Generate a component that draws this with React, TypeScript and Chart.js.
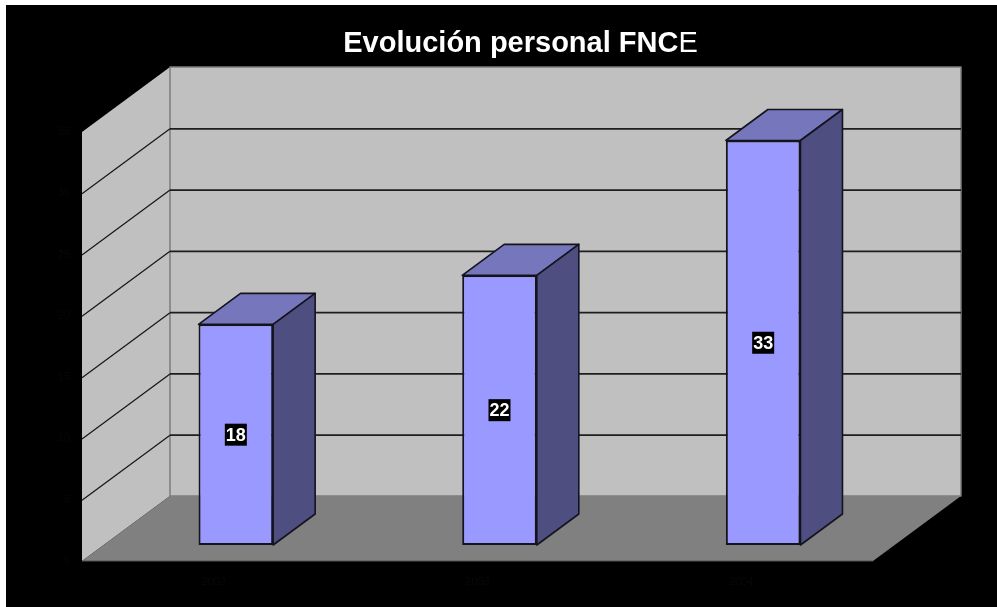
import React, { useEffect, useRef } from "react";
import { Chart, registerables } from "chart.js";

Chart.register(...registerables);

const categories = ["2002", "2003", "2004"];
const staffValues = [18, 22, 33];
const titleBold = "Evolución personal FNC";
const titleRegular = "E";

const FONT = '"Liberation Sans", Arial, sans-serif';
const WALL_DX = 88;
const WALL_DY = -65;
const BAR_DX = 42;
const BAR_DY = -31;
const BAR_SHIFT_X = 22;
const BAR_SHIFT_Y = -16;
const TITLE_SIZE = 29;

function poly(ctx: CanvasRenderingContext2D, pts: number[][], fill: string, stroke?: string, lw = 1) {
  ctx.beginPath();
  pts.forEach(([x, y], i) => (i ? ctx.lineTo(x, y) : ctx.moveTo(x, y)));
  ctx.closePath();
  ctx.fillStyle = fill;
  ctx.fill();
  if (stroke) {
    ctx.strokeStyle = stroke;
    ctx.lineWidth = lw;
    ctx.lineJoin = "round";
    ctx.stroke();
  }
}

const scene3d = {
  id: "scene3d",
  beforeDatasetsDraw(chart: any) {
    const { ctx, chartArea: a, scales } = chart;
    const { left: l, right: r, top: t, bottom: b } = a;
    ctx.save();
    // side wall
    poly(ctx, [[l, t], [l + WALL_DX, t + WALL_DY], [l + WALL_DX, b + WALL_DY], [l, b]], "#C0C0C0");
    // back wall
    poly(
      ctx,
      [[l + WALL_DX, t + WALL_DY], [r + WALL_DX, t + WALL_DY], [r + WALL_DX, b + WALL_DY], [l + WALL_DX, b + WALL_DY]],
      "#C0C0C0",
      "#7c7c7c",
      1.5
    );
    // grid lines
    scales.y.ticks.forEach((tick: any) => {
      if (tick.value === 0 || tick.value === scales.y.max) return;
      const y = scales.y.getPixelForValue(tick.value) + 0.5;
      ctx.strokeStyle = "#161616";
      ctx.lineWidth = 1.2;
      ctx.beginPath();
      ctx.moveTo(l, y);
      ctx.lineTo(l + WALL_DX, y + WALL_DY);
      ctx.stroke();
      ctx.strokeStyle = "#1e1e1e";
      ctx.lineWidth = 1.8;
      ctx.beginPath();
      ctx.moveTo(l + WALL_DX, y + WALL_DY);
      ctx.lineTo(r + WALL_DX, y + WALL_DY);
      ctx.stroke();
    });
    // floor
    poly(ctx, [[l, b], [r, b], [r + WALL_DX, b + WALL_DY], [l + WALL_DX, b + WALL_DY]], "#808080");
    ctx.strokeStyle = "#555555";
    ctx.lineWidth = 1;
    ctx.beginPath();
    ctx.moveTo(l, b);
    ctx.lineTo(r, b);
    ctx.stroke();
    // bar depth faces, taken from the bar elements
    chart.getDatasetMeta(0).data.forEach((bar: any) => {
      const x1 = bar.x - bar.width / 2 + BAR_SHIFT_X;
      const x2 = bar.x + bar.width / 2 + BAR_SHIFT_X;
      const top = bar.y + BAR_SHIFT_Y;
      const base = bar.base + BAR_SHIFT_Y;
      poly(ctx, [[x1, top], [x1 + BAR_DX, top + BAR_DY], [x2 + BAR_DX, top + BAR_DY], [x2, top]], "#7676BC", "#14141f", 1.6);
      poly(ctx, [[x2, top], [x2 + BAR_DX, top + BAR_DY], [x2 + BAR_DX, base + BAR_DY], [x2, base]], "#4E4E80", "#14141f", 1.6);
    });
    ctx.restore();
    ctx.save();
    ctx.translate(BAR_SHIFT_X, BAR_SHIFT_Y);
  },
  afterDatasetsDraw(chart: any) {
    const { ctx } = chart;
    ctx.restore();
    ctx.save();
    const values = chart.data.datasets[0].data;
    ctx.font = `bold 18px ${FONT}`;
    ctx.textAlign = "center";
    ctx.textBaseline = "middle";
    chart.getDatasetMeta(0).data.forEach((bar: any, i: number) => {
      const cx = bar.x + BAR_SHIFT_X;
      const cy = (bar.y + bar.base) / 2 + BAR_SHIFT_Y;
      ctx.fillStyle = "#000000";
      ctx.fillRect(cx - 11, cy - 11, 22, 22);
      ctx.fillStyle = "#ffffff";
      ctx.fillText(String(values[i]), cx, cy + 1);
    });
    ctx.restore();
  },
  afterDraw(chart: any) {
    const { ctx } = chart;
    ctx.save();
    ctx.textAlign = "left";
    ctx.textBaseline = "alphabetic";
    ctx.fillStyle = "#ffffff";
    ctx.font = `bold ${TITLE_SIZE}px ${FONT}`;
    const w1 = ctx.measureText(titleBold).width;
    ctx.font = `${TITLE_SIZE}px ${FONT}`;
    const w2 = ctx.measureText(titleRegular).width;
    const x0 = 514.5 - (w1 + w2) / 2;
    ctx.font = `bold ${TITLE_SIZE}px ${FONT}`;
    ctx.fillText(titleBold, x0, 47);
    ctx.font = `${TITLE_SIZE}px ${FONT}`;
    ctx.fillText(titleRegular, x0 + w1, 47);
    ctx.restore();
  },
};

export default function App() {
  const ref = useRef<HTMLCanvasElement>(null);
  useEffect(() => {
    const chart = new Chart(ref.current as HTMLCanvasElement, {
      type: "bar",
      data: {
        labels: categories,
        datasets: [
          {
            label: "Personal FNCE",
            data: staffValues,
            backgroundColor: "#9999FF",
            borderColor: "#14141f",
            borderWidth: 2,
            borderSkipped: false,
            categoryPercentage: 1,
            barPercentage: 0.283,
            clip: false as any,
          },
        ],
      },
      options: {
        responsive: false,
        animation: false,
        devicePixelRatio: 1,
        layout: { padding: { left: 0, right: 124, top: 127, bottom: 0 } },
        plugins: { legend: { display: false }, title: { display: false }, tooltip: { enabled: false } },
        scales: {
          x: {
            grid: { display: false },
            border: { display: false },
            ticks: { color: "#080808", font: { family: FONT, size: 11 }, padding: 6, maxRotation: 0 },
            afterFit: (s: any) => {
              s.height = 46;
            },
          },
          y: {
            min: 0,
            max: 35,
            grid: { display: false },
            border: { display: false },
            ticks: { stepSize: 5, color: "#080808", font: { family: FONT, size: 11 }, padding: 4 },
            afterFit: (s: any) => {
              s.width = 76;
            },
          },
        },
      },
      plugins: [scene3d],
    } as any);
    return () => chart.destroy();
  }, []);
  return (
    <div style={{ position: "fixed", inset: 0, background: "#ffffff", overflow: "hidden" }}>
      <canvas
        ref={ref}
        width={991}
        height={602}
        style={{ position: "absolute", left: 6, top: 5, width: 991, height: 602, background: "#000000", display: "block" }}
      />
    </div>
  );
}
